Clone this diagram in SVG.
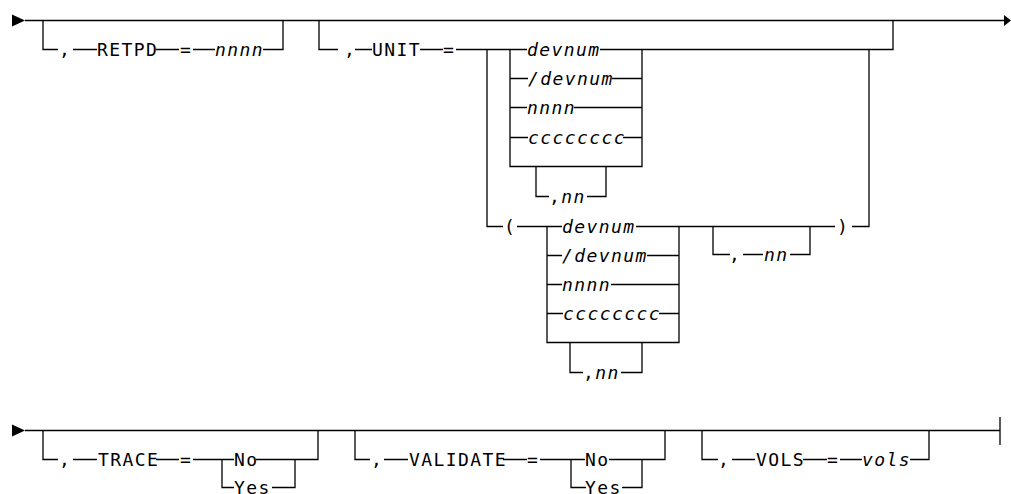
<svg xmlns="http://www.w3.org/2000/svg" width="1011" height="494" viewBox="0 0 1011 494">
<style>
.l{stroke:#000;stroke-width:1.3;fill:none}
.t{font-family:"DejaVu Sans Mono",monospace;font-size:18px;letter-spacing:1.4px;fill:#000}
.i{font-style:italic}
.a{fill:#000}
</style>
<rect width="1011" height="494" fill="#fff"/>
<g id="connectors">
<polygon class="a" points="12,14.5 25,20.5 12,26.5"/>
<path class="l" d="M25,20.5 H1004"/>
<polygon class="a" points="1004,15 1011,20.5 1004,26"/>
<polygon class="a" points="12,424.5 25,430.5 12,436.5"/>
<path class="l" d="M25,430.5 H1000 M1000,417 V445"/>
</g>
<g id="retpd">
<path class="l" d="M43,20.5 V49.5 H58 M73,49.5 H97 M156,49.5 H179 M193,49.5 H215 M263,49.5 H283 V20.5"/>
<text class="t" x="59" y="56">,</text>
<text class="t" x="97" y="56">RETPD</text>
<text class="t" x="180" y="56">=</text>
<text class="t i" x="215" y="56">nnnn</text>
</g>
<g id="unit">
<path class="l" d="M319,20.5 V49.5 H338 M355,49.5 H372 M420,49.5 H443 M456,49.5 H527 M600,49.5 H893 V20.5"/>
<text class="t" x="344" y="56">,</text>
<text class="t" x="372" y="56">UNIT</text>
<text class="t" x="443" y="56">=</text>
<path class="l" d="M487,49.5 V226.5 H503 M517,226.5 H562 M636,226.5 H835 M852,226.5 H869 V49.5"/>
<text class="t" x="504" y="233">(</text>
<text class="t" x="837" y="233">)</text>
</g>
<g id="unit-list">
<path class="l" d="M510,49.5 V166.5 H642 V49.5 M510,78.5 H528 M612,78.5 H642 M510,107.5 H527 M574,107.5 H642 M510,137.5 H528 M623,137.5 H642"/>
<text class="t i" x="527" y="56">devnum</text>
<text class="t i" x="528" y="85">/devnum</text>
<text class="t i" x="527" y="114">nnnn</text>
<text class="t i" x="528" y="144">cccccccc</text>
<path class="l" d="M536,166.5 V196.5 H549 M587,196.5 H606 V166.5"/>
<text class="t" x="549" y="203">,<tspan class="i">nn</tspan></text>
</g>
<g id="unit-paren-list">
<path class="l" d="M547,226.5 V342.5 H679 V226.5 M547,255.5 H562 M647,255.5 H679 M547,284.5 H562 M611,284.5 H679 M547,313.5 H563 M659,313.5 H679"/>
<text class="t i" x="562" y="233">devnum</text>
<text class="t i" x="562" y="262">/devnum</text>
<text class="t i" x="562" y="291">nnnn</text>
<text class="t i" x="563" y="320">cccccccc</text>
<path class="l" d="M570,342.5 V372.5 H583 M621,372.5 H642 V342.5"/>
<text class="t" x="583" y="379">,<tspan class="i">nn</tspan></text>
</g>
<g id="unit-nn">
<path class="l" d="M713,226.5 V254.5 H730 M743,254.5 H763 M790,254.5 H810 V226.5"/>
<text class="t" x="729" y="261">,</text>
<text class="t i" x="764" y="261">nn</text>
</g>
<g id="trace">
<path class="l" d="M43,430.5 V459.5 H58 M73,459.5 H97 M156,459.5 H179 M193,459.5 H234 M256,459.5 H318 V430.5 M222,459.5 V487.5 H234 M272,487.5 H295 V459.5"/>
<text class="t" x="59" y="466">,</text>
<text class="t" x="98" y="466">TRACE</text>
<text class="t" x="180" y="466">=</text>
<text class="t" x="234" y="466">No</text>
<text class="t" x="234" y="494">Yes</text>
</g>
<g id="validate">
<path class="l" d="M355,430.5 V459.5 H370 M384,459.5 H408 M503,459.5 H527 M540,459.5 H585 M609,459.5 H665 V430.5 M571,459.5 V487.5 H586 M622,487.5 H642 V459.5"/>
<text class="t" x="371" y="466">,</text>
<text class="t" x="409" y="466">VALIDATE</text>
<text class="t" x="527" y="466">=</text>
<text class="t" x="585" y="466">No</text>
<text class="t" x="585" y="494">Yes</text>
</g>
<g id="vols">
<path class="l" d="M702,430.5 V459.5 H718 M732,459.5 H755 M803,459.5 H827 M840,459.5 H862 M910,459.5 H929 V430.5"/>
<text class="t" x="718" y="466">,</text>
<text class="t" x="756" y="466">VOLS</text>
<text class="t" x="827" y="466">=</text>
<text class="t i" x="862" y="466">vols</text>
</g>
</svg>
